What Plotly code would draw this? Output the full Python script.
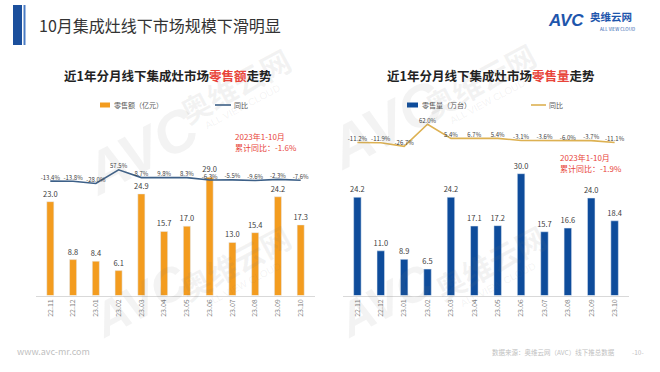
import plotly.graph_objects as go

# ---------------- data ----------------
months = ["22.11", "22.12", "23.01", "23.02", "23.03", "23.04",
          "23.05", "23.06", "23.07", "23.08", "23.09", "23.10"]
sales_value = [23.0, 8.8, 8.4, 6.1, 24.9, 15.7, 17.0, 29.0, 13.0, 15.4, 24.2, 17.3]   # 亿元
value_yoy = [-13.4, -13.8, -28.0, 57.5, 8.7, 9.8, 8.3, -6.3, -5.5, -9.6, -2.3, -7.6]  # %
sales_volume = [24.2, 11.0, 8.9, 6.5, 24.2, 17.1, 17.2, 30.0, 15.7, 16.6, 24.0, 18.4]  # 万台
volume_yoy = [-11.2, -11.9, -26.7, 62.0, 5.4, 6.7, 5.4, -3.1, -3.6, -6.0, -3.7, -11.1]  # %

W, H = 660, 372
FONT = "Noto Sans CJK SC, Arial, sans-serif"
ORANGE = "#F39C1F"
BLUE = "#0E4C9B"
LINE_L = "#3D6088"
LINE_R = "#DDB152"
RED = "#E8443A"


def px(x):
    return x / W


def py(y):
    return 1 - y / H


fig = go.Figure()

# left chart
fig.add_trace(go.Bar(
    x=months, y=sales_value, xaxis="x", yaxis="y",
    marker_color=ORANGE, width=0.31,
    text=[f"{v:.1f}" for v in sales_value], textposition="outside", constraintext="none",
    textfont=dict(size=7.5, color="#404040", family=FONT),
    cliponaxis=False, showlegend=False))
fig.add_trace(go.Scatter(
    x=months, y=value_yoy, xaxis="x", yaxis="y2", mode="lines+text",
    line=dict(color=LINE_L, width=1.6),
    text=[f"{v:.1f}%" for v in value_yoy], textposition="top center",
    textfont=dict(size=6, color="#404040", family=FONT),
    cliponaxis=False, showlegend=False))

# right chart
fig.add_trace(go.Bar(
    x=months, y=sales_volume, xaxis="x2", yaxis="y3",
    marker_color=BLUE, width=0.32,
    text=[f"{v:.1f}" for v in sales_volume], textposition="outside", constraintext="none",
    textfont=dict(size=7.5, color="#404040", family=FONT),
    cliponaxis=False, showlegend=False))
fig.add_trace(go.Scatter(
    x=months, y=volume_yoy, xaxis="x2", yaxis="y4", mode="lines+text",
    line=dict(color=LINE_R, width=1.6),
    text=[f"{v:.1f}%" for v in volume_yoy], textposition="top center",
    textfont=dict(size=6, color="#404040", family=FONT),
    cliponaxis=False, showlegend=False))

xaxis_common = dict(type="category", tickangle=-90, showgrid=False, zeroline=False,
                    showline=True, linecolor="#D9D9D9", linewidth=1, ticks="",
                    tickfont=dict(size=7, color="#7F7F7F", family=FONT))
bar_dom = [py(295.5), py(140)]

fig.update_layout(
    width=W, height=H, margin=dict(l=0, r=0, t=0, b=0),
    paper_bgcolor="white", plot_bgcolor="rgba(0,0,0,0)",
    font=dict(family=FONT),
    xaxis=dict(domain=[px(36.4), px(314.6)], anchor="y", **xaxis_common),
    yaxis=dict(domain=bar_dom, range=[0, 155.5 / 4.08], anchor="x", visible=False),
    yaxis2=dict(domain=[py(200), py(160)], range=[-131.25, 118.75], anchor="x", visible=False),
    xaxis2=dict(domain=[px(343.1), px(628.9)], anchor="y3", **xaxis_common),
    yaxis3=dict(domain=bar_dom, range=[0, 155.5 / 4.06], anchor="x2", visible=False),
    yaxis4=dict(domain=[py(160), py(110)], range=[-81.2, 118.8], anchor="x2", visible=False),
    bargap=0.68,
)

ann = []
shapes = []


def text(x, y, s, size, color, xanchor="left", bold=False, angle=0, opacity=1.0):
    ann.append(dict(x=px(x), y=py(y), xref="paper", yref="paper", text=(f"<b>{s}</b>" if bold else s),
                    showarrow=False, xanchor=xanchor, yanchor="middle", textangle=angle,
                    opacity=opacity, font=dict(size=size, color=color, family=FONT)))


# watermarks (faint)
WM = "rgba(120,120,120,0.09)"
for (ax, ay, cx, cy, s) in [(140, 150, 235, 85, 58), (385, 125, 480, 80, 58),
                            (140, 300, 235, 262, 48), (385, 300, 490, 262, 48)]:
    ann.append(dict(x=px(ax), y=py(ay), xref="paper", yref="paper", text="<b><i>AVC</i></b>",
                    showarrow=False, textangle=-28, xanchor="center", yanchor="middle",
                    font=dict(size=s, color=WM, family="Arial Black, Arial")))
    ann.append(dict(x=px(cx), y=py(cy), xref="paper", yref="paper", text="<b>奥维云网</b>",
                    showarrow=False, textangle=-28, xanchor="center", yanchor="middle",
                    font=dict(size=30, color=WM, family=FONT)))
    ann.append(dict(x=px(cx + 8), y=py(cy + 22), xref="paper", yref="paper", text="ALL VIEW CLOUD",
                    showarrow=False, textangle=-28, xanchor="center", yanchor="middle",
                    font=dict(size=10, color=WM, family="Arial")))

# header
shapes.append(dict(type="rect", xref="paper", yref="paper", x0=px(13), x1=px(22), y0=py(45), y1=py(5),
                   fillcolor="#1B4F9C", line=dict(width=0)))
shapes.append(dict(type="rect", xref="paper", yref="paper", x0=px(23.5), x1=px(25.5), y0=py(45), y1=py(5),
                   fillcolor="#4A7CC4", line=dict(width=0)))
text(37, 25, "10月集成灶线下市场规模下滑明显", 16, "#333333")

# logo
ann.append(dict(x=px(566), y=py(21), xref="paper", yref="paper", text="<b><i>AVC</i></b>", showarrow=False,
                xanchor="center", yanchor="middle",
                font=dict(size=17, color="#1E56AC", family="Arial Black, Arial")))
text(588, 17, "<b>奥维云网</b>", 10.5, "#1E56AC")
text(598, 29, "ALL VIEW CLOUD", 4.5, "#1E56AC")

# chart titles
text(168, 75, "近1年分月线下集成灶市场<span style='color:%s'>零售额</span>走势" % RED, 12.5, "#222222",
     xanchor="center", bold=True)
text(491, 75, "近1年分月线下集成灶市场<span style='color:%s'>零售量</span>走势" % RED, 12.5, "#222222",
     xanchor="center", bold=True)

# legends
shapes.append(dict(type="rect", xref="paper", yref="paper", x0=px(100), x1=px(110), y0=py(107.5), y1=py(102.5),
                   fillcolor=ORANGE, line=dict(width=0)))
text(112, 105, "零售额（亿元）", 7, "#595959")
shapes.append(dict(type="line", xref="paper", yref="paper", x0=px(215), x1=px(231), y0=py(105), y1=py(105),
                   line=dict(color=LINE_L, width=1.6)))
text(232, 105, "同比", 7, "#595959")

shapes.append(dict(type="rect", xref="paper", yref="paper", x0=px(407), x1=px(418), y0=py(107.5), y1=py(102.5),
                   fillcolor=BLUE, line=dict(width=0)))
text(420, 105, "零售量（万台）", 7, "#595959")
shapes.append(dict(type="line", xref="paper", yref="paper", x0=px(531), x1=px(546), y0=py(105), y1=py(105),
                   line=dict(color=LINE_R, width=1.6)))
text(547, 105, "同比", 7, "#595959")

# cumulative notes
text(233, 136, "2023年1-10月", 8, RED)
text(233, 147, "累计同比：-1.6%", 8, RED)
text(558, 157, "2023年1-10月", 8, RED)
text(558, 168, "累计同比：-1.9%", 8, RED)

# footer
text(15, 351, "www.avc-mr.com", 9, "#BFBFBF")
text(490, 352, "数据来源：奥维云网（AVC）线下推总数据", 6.5, "#BFBFBF")
text(630, 352, "-10-", 6.5, "#BFBFBF")

fig.update_layout(annotations=ann, shapes=shapes)
fig.write_html("out.html", config={"displayModeBar": False},
               post_script="document.body.style.margin='0';document.body.style.padding='0';"
                           "document.documentElement.style.overflow='hidden';")
